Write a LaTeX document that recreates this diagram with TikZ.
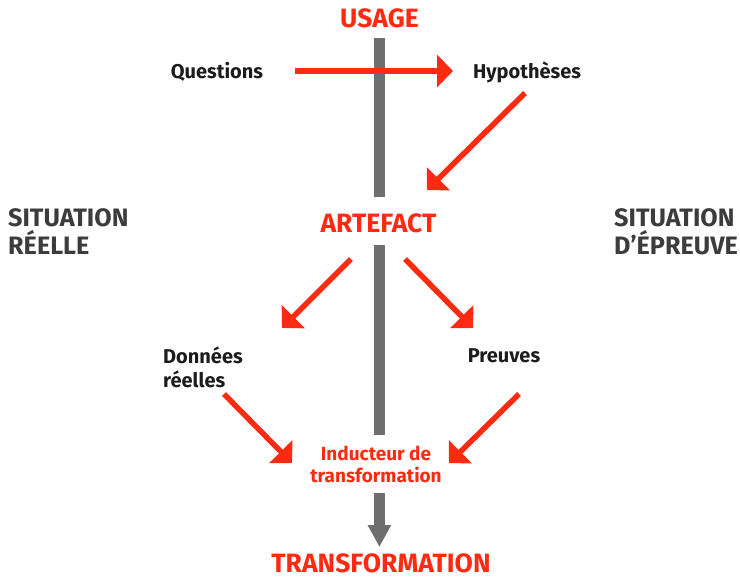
\documentclass[tikz,border=0pt]{standalone}
\usepackage{fontspec}
\setmainfont{Fira Sans}
\usetikzlibrary{arrows.meta}
\definecolor{accent}{RGB}{255,42,18}
\definecolor{barcol}{RGB}{110,110,110}
\definecolor{inkdark}{RGB}{28,28,28}
\definecolor{inkgray}{RGB}{60,60,60}
\begin{document}
\begin{tikzpicture}[x=1pt,y=-1pt,
  heading/.style={text=accent,font=\bfseries\fontsize{26.5}{30}\selectfont,inner sep=0pt,anchor=base},
  term/.style={text=inkdark,font=\bfseries\fontsize{20}{24}\selectfont,inner sep=0pt},
  situation/.style={text=inkgray,font=\bfseries\fontsize{25.2}{28}\selectfont,inner sep=0pt,align=left,anchor=north west},
  flow/.style={draw=accent,line width=5.5pt,-{Triangle[length=16pt,width=32pt]}},
  spine/.style={draw=barcol,line width=10.6pt},
]
\useasboundingbox (0,0) rectangle (740,579);

% central axis
\coordinate (ax1) at (379.4,38);
\coordinate (ax2) at (379.4,197);
\coordinate (ax3) at (379.4,245);
\coordinate (ax4) at (379.4,435);
\coordinate (ax5) at (379.4,493);
\coordinate (ax6) at (379.4,547);
\draw[spine] (ax1) -- (ax2);
\draw[spine] (ax3) -- (ax4);
\draw[spine,-{Triangle[length=22pt,width=22pt]}] (ax5) -- (ax6);

% main stages
\node[heading] (usage) at (379.5,27) {USAGE};
\node[heading] (artefact) at (378.5,232) {ARTEFACT};
\node[heading] (transformation) at (381,572.5) {TRANSFORMATION};

% terms
\node[term,anchor=base] (questions) at (217,78) {Questions};
\node[term,anchor=base] (hypotheses) at (527,78) {Hypothèses};
\node[term,anchor=north west,align=left] (donnees) at (163,347) {Données\\réelles};
\node[term,anchor=base] (preuves) at (504,362) {Preuves};
\node[term,text=accent,anchor=north,align=center,font=\bfseries\fontsize{19}{22}\selectfont] (inducteur) at (376,446) {Inducteur de\\transformation};

% side labels
\node[situation] (reelle) at (8,208) {SITUATION\\RÉELLE};
\node[situation] (epreuve) at (614,208) {SITUATION\\D’ÉPREUVE};

% red flow arrows
\coordinate (q1) at (295,71);   \coordinate (q2) at (453,71);
\coordinate (h1) at (525,93);   \coordinate (h2) at (427,190);
\coordinate (a1) at (351,259);  \coordinate (a2) at (282,328);
\coordinate (b1) at (405,259);  \coordinate (b2) at (473,328);
\coordinate (d1) at (224,394);  \coordinate (d2) at (292,463);
\coordinate (p1) at (519,394);  \coordinate (p2) at (449,463);
\draw[flow] (q1) -- (q2);
\draw[flow] (h1) -- (h2);
\draw[flow] (a1) -- (a2);
\draw[flow] (b1) -- (b2);
\draw[flow] (d1) -- (d2);
\draw[flow] (p1) -- (p2);
\end{tikzpicture}
\end{document}
